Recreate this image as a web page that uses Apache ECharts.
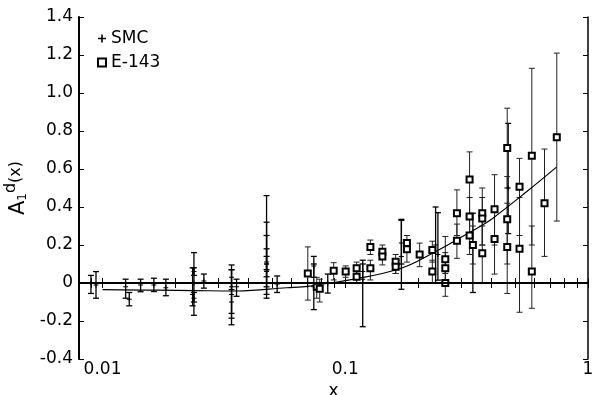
<!DOCTYPE html>
<html>
<head>
<meta charset="utf-8">
<script src="https://cdn.jsdelivr.net/npm/echarts@6/dist/echarts.min.js"></script>
<style>html,body{margin:0;padding:0;background:#fff;}#c{width:599px;height:395px;}</style>
</head>
<body>
<div id="c"></div>
<script>
// ---- data ----
const smcX = [0.00896,0.0094,0.01245,0.01289,0.01435,0.01628,0.01824,0.0238,0.0235,0.0238,0.0238,0.02615,
  0.034,0.034,0.034,0.034,0.03565,0.0474,0.0474,0.0474,0.0474,0.0474,0.0524,0.0742,0.0742,0.0847,
  0.118,0.118,0.1703,0.1703,0.2356,0.2408,0.3355,0.469];
const smcY = [0.0,-0.01,-0.02,-0.085,-0.01,-0.01,-0.025,0.0,-0.06,-0.08,0.06,0.01,
  -0.02,-0.06,-0.1,0.03,-0.02,0.07,0.1,0.06,0.11,0.1,-0.005,0.09,-0.02,0.0,
  0.02,0.06,0.14,0.21,0.2,0.15,0.2,0.5];
const smcLo = [-0.055,-0.08,-0.08,-0.12,-0.046,-0.045,-0.067,-0.17,-0.12,-0.1,0.04,-0.027,
  -0.22,-0.16,-0.185,-0.035,-0.07,-0.08,-0.06,-0.02,0.033,0.07,-0.05,0.03,-0.14,-0.053,
  -0.23,0.0,-0.033,0.1,0.0,0.015,-0.05,0.26];
const smcHi = [0.04,0.06,0.02,-0.05,0.02,0.025,0.02,0.16,0.08,-0.05,0.08,0.047,
  0.095,0.07,0.0,0.07,0.02,0.46,0.32,0.25,0.18,0.14,0.037,0.14,0.1,0.047,
  0.12,0.1,0.335,0.33,0.4,0.37,0.367,0.84];

const e143X = [0.0701,0.0763,0.0785,0.0896,0.1004,0.1114,0.1114,0.1269,0.1269,0.1422,0.1422,0.1613,0.1613,
  0.1795,0.1795,0.2025,0.2284,0.2284,0.2583,0.2583,0.2583,0.2884,0.2884,0.3252,0.3252,0.3252,0.3355,
  0.3668,0.3668,0.3668,0.4121,0.4121,0.4648,0.4648,0.4648,0.5223,0.5223,0.5869,0.5869,0.662,0.7437];
const e143Y = [0.05,-0.02,-0.03,0.065,0.06,0.077,0.033,0.19,0.077,0.165,0.14,0.112,0.086,
  0.21,0.177,0.15,0.174,0.06,0.125,0.077,0.0,0.367,0.223,0.545,0.35,0.25,0.2,
  0.367,0.34,0.156,0.388,0.232,0.71,0.335,0.19,0.507,0.18,0.67,0.06,0.42,0.767];
const e143Lo = [-0.09,-0.08,-0.1,0.016,0.03,0.045,0.0,0.15,0.016,0.13,0.095,0.05,0.05,
  0.17,0.11,0.086,0.11,0.0,0.05,-0.01,-0.07,0.25,0.13,0.35,0.25,0.15,0.1,
  0.2,0.2,0.0,0.2,0.047,0.5,0.1,-0.055,0.25,-0.154,0.2,-0.133,0.14,0.326];
const e143Hi = [0.19,0.03,0.02,0.107,0.09,0.11,0.065,0.226,0.12,0.2,0.18,0.15,0.12,
  0.25,0.22,0.21,0.22,0.12,0.245,0.16,0.07,0.49,0.31,0.69,0.45,0.35,0.3,
  0.5,0.45,0.3,0.57,0.4,0.92,0.56,0.42,0.656,0.45,1.13,0.3,0.705,1.21];

const curveX = [0.01,0.0172,0.0238,0.0357,0.0574,0.0714,0.0863,0.1043,0.1675,0.229,0.296,0.3574,0.4044,0.558,0.7415];
const curveY = [-0.035,-0.038,-0.04,-0.042,-0.025,-0.016,0.0,0.016,0.075,0.157,0.236,0.296,0.34,0.48,0.61];

const xLabelValues = [0.01, 0.1, 1];
const xTickValues = [0.009,0.01,0.02,0.03,0.04,0.05,0.06,0.07,0.08,0.09,0.1,0.2,0.3,0.4,0.5,0.6,0.7,0.8,0.9,1];
const yMin = -0.4, yMax = 1.4, yStep = 0.2;

// ---- chart ----
const FONT = 'DejaVu Sans';
const plusPath = 'path://M4,0H6V4H10V6H6V10H4V6H0V4H4Z';

function barRenderer(color, width) {
  return function (params, api) {
    const x = api.value(0), lo = api.value(1), hi = api.value(2);
    const p1 = api.coord([x, lo]);
    const p2 = api.coord([x, hi]);
    const c = 3;
    const st = { stroke: color, lineWidth: width };
    return {
      type: 'group',
      children: [
        { type: 'line', shape: { x1: p1[0], y1: p1[1], x2: p2[0], y2: p2[1] }, style: st },
        { type: 'line', shape: { x1: p1[0] - c, y1: p1[1], x2: p1[0] + c, y2: p1[1] }, style: st },
        { type: 'line', shape: { x1: p2[0] - c, y1: p2[1], x2: p2[0] + c, y2: p2[1] }, style: st }
      ]
    };
  };
}

const chart = echarts.init(document.getElementById('c'), null, { renderer: 'canvas' });
const xCommon = {
  type: 'log', logBase: 10, min: 0.008, max: 1,
  splitLine: { show: false }, minorTick: { show: false }
};
const yCommon = {
  type: 'value', min: yMin, max: yMax, interval: yStep,
  splitLine: { show: false }
};
chart.setOption({
  animation: false,
  backgroundColor: '#fff',
  grid: { left: 79, right: 11, top: 17, bottom: 36, containLabel: false, outerBoundsMode: 'none' },
  legend: {
    orient: 'vertical', left: 92, top: 24, itemGap: 5,
    itemWidth: 8, itemHeight: 8,
    data: ['SMC', 'E-143'],
    textStyle: { fontFamily: FONT, fontSize: 17, color: '#000', lineHeight: 19 }
  },
  xAxis: [
    Object.assign({}, xCommon, {
      position: 'bottom',
      axisLine: { show: true, lineStyle: { color: '#000', width: 2 } },
      axisTick: { show: true, inside: true, length: 5, customValues: xTickValues, lineStyle: { color: '#000', width: 1 } },
      axisLabel: { show: true, customValues: xLabelValues, margin: 2, color: '#000', fontFamily: FONT, fontSize: 17,
        formatter: function (v) { return String(v); } },
      name: 'x', nameLocation: 'middle', nameGap: 17,
      nameTextStyle: { fontFamily: FONT, fontSize: 17, color: '#000' }
    }),
    Object.assign({}, xCommon, {
      position: 'top',
      axisLine: { show: true, lineStyle: { color: '#000', width: 1 } },
      axisTick: { show: true, inside: true, length: 5, customValues: xTickValues, lineStyle: { color: '#000', width: 1 } },
      axisLabel: { show: false }
    })
  ],
  yAxis: [
    Object.assign({}, yCommon, {
      position: 'left',
      axisLine: { show: true, lineStyle: { color: '#000', width: 2 } },
      axisTick: { show: true, inside: true, length: 5, lineStyle: { color: '#000', width: 1 } },
      axisLabel: { show: true, margin: 6, color: '#000', fontFamily: FONT, fontSize: 17,
        formatter: function (v) { return Math.abs(v) < 1e-9 ? '0' : v.toFixed(1); } },
      name: '{a|A}{sub|1}{sup|d}{b|(x)}', nameLocation: 'middle', nameGap: 36, nameRotate: 90,
      nameTextStyle: {
        fontFamily: FONT, color: '#000', fontSize: 20,
        rich: {
          a: { fontFamily: FONT, fontSize: 21, color: '#000', lineHeight: 26, verticalAlign: 'bottom' },
          sub: { fontFamily: FONT, fontSize: 12, color: '#000', lineHeight: 26, verticalAlign: 'bottom' },
          sup: { fontFamily: FONT, fontSize: 16, color: '#000', lineHeight: 26, verticalAlign: 'top' },
          b: { fontFamily: FONT, fontSize: 16, color: '#000', lineHeight: 26, verticalAlign: 'middle' }
        }
      }
    }),
    Object.assign({}, yCommon, {
      position: 'right',
      axisLine: { show: true, lineStyle: { color: '#000', width: 1.5 } },
      axisTick: { show: true, inside: true, length: 5, lineStyle: { color: '#000', width: 1 } },
      axisLabel: { show: false }
    })
  ],
  series: [
    {
      name: 'SMC err', type: 'custom', xAxisIndex: 0, yAxisIndex: 0,
      renderItem: barRenderer('#000', 1.3),
      encode: { x: 0, y: [1, 2] },
      data: smcX.map(function (x, i) { return [x, smcLo[i], smcHi[i]]; }),
      z: 2, silent: true
    },
    {
      name: 'E-143 err', type: 'custom', xAxisIndex: 0, yAxisIndex: 0,
      renderItem: barRenderer('#222', 1),
      encode: { x: 0, y: [1, 2] },
      data: e143X.map(function (x, i) { return [x, e143Lo[i], e143Hi[i]]; }),
      z: 2, silent: true
    },
    {
      name: 'fit', type: 'line', smooth: 0.4, symbol: 'none',
      lineStyle: { color: '#000', width: 1.2 },
      data: curveX.map(function (x, i) { return [x, curveY[i]]; }),
      z: 3,
      markLine: {
        silent: true, symbol: 'none', label: { show: false },
        lineStyle: { color: '#000', width: 1.8, type: 'solid' },
        data: [{ yAxis: 0 }]
      }
    },
    {
      name: 'SMC', type: 'scatter', symbol: plusPath, symbolSize: 5,
      itemStyle: { color: '#000', opacity: 1 },
      data: smcX.map(function (x, i) { return [x, smcY[i]]; }),
      z: 4
    },
    {
      name: 'E-143', type: 'scatter', symbol: 'emptyRect', symbolSize: 6,
      itemStyle: { color: '#000', borderColor: '#000', borderWidth: 1, opacity: 1 },
      data: e143X.map(function (x, i) { return [x, e143Y[i]]; }),
      z: 4
    }
  ]
});
</script>
</body>
</html>
